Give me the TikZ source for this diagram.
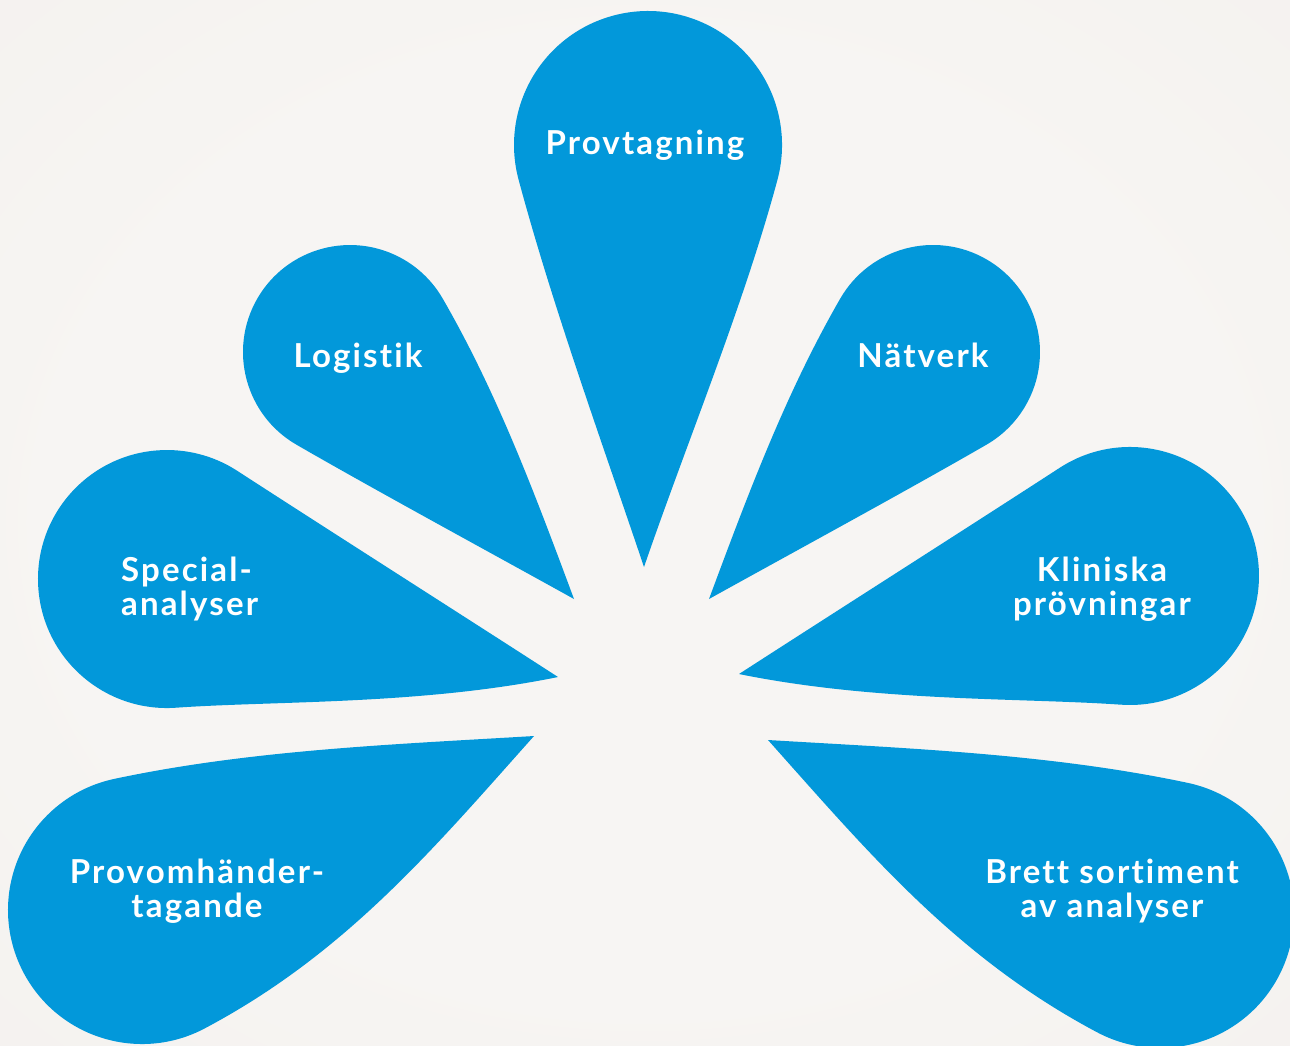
\documentclass[tikz,border=0pt]{standalone}
\usepackage{fontspec}
\setmainfont{Lato}[Ligatures=NoCommon, LetterSpace=6.5]
\begin{document}
\definecolor{petal}{RGB}{2,152,218}
\definecolor{bgin}{RGB}{247,245,243}
\definecolor{bgmid}{RGB}{242,239,236}
\definecolor{bgout}{RGB}{230,225,221}
\pgfdeclareradialshading{paper}{\pgfpoint{0bp}{0bp}}{%
  color(0bp)=(bgin); color(22bp)=(bgin); color(50bp)=(bgmid); color(71bp)=(bgout)}
\begin{tikzpicture}[x=1pt,y=-1pt,
  petalfill/.style={fill=petal, draw=none},
  label/.style={text=white, font=\fontsize{33}{34}\selectfont\bfseries,
    inner sep=0pt, align=center, anchor=base}]
\useasboundingbox (0,0) rectangle (1290,1045);
\clip (0,0) rectangle (1290,1045);
\shade[shading=paper] (0,0) rectangle (1290,1045);

% top petal
\fill[petalfill] (644,567) .. controls (602.4,443.5) and (552.3,305.3) .. (518.6,179.7)
  arc[start angle=165, end angle=375, radius=134]
  .. controls (743.7,305.3) and (686.2,444) .. cycle;

% upper left petal
\fill[petalfill] (574,599) .. controls (495.3,555.3) and (374.4,489.7) .. (296.5,444.7)
  arc[start angle=120, end angle=330, radius=107]
  .. controls (497.7,393.8) and (535.6,495.9) .. cycle;

% upper right petal
\fill[petalfill] (709,599) .. controls (747.4,495.9) and (785.3,393.8) .. (840.3,298.5)
  arc[start angle=210, end angle=420, radius=107]
  .. controls (908.6,489.7) and (787.7,555.3) .. cycle;

% middle left petal
\fill[petalfill] (558,677) .. controls (420.8,705) and (275.8,700.7) .. (176,707.7)
  arc[start angle=86, end angle=303, radius=129]
  .. controls (321.2,525.3) and (474,622.7) .. cycle;

% middle right petal
\fill[petalfill] (739,674) .. controls (823,619.7) and (975.8,522.3) .. (1059.7,467.8)
  arc[start angle=237, end angle=454, radius=129]
  .. controls (1021.2,697.7) and (876.2,702) .. cycle;

% lower left petal
\fill[petalfill] (534,736) .. controls (434.1,847.9) and (346.2,953.3) .. (204.9,1028.3)
  arc[start angle=62, end angle=258, radius=134]
  .. controls (251,749.8) and (394.3,744.4) .. cycle;

% lower right petal
\fill[petalfill] (768,740) .. controls (907.7,748.4) and (1051,753.8) .. (1187.9,782.9)
  arc[start angle=282, end angle=478, radius=134]
  .. controls (955.8,957.3) and (867.9,851.9) .. cycle;

\node[label] (prov) at (645,154) {Provtagning};
\node[label] (logi) at (358,367) {Logistik};
\node[label] (natv) at (923,367) {Nätverk};
\node[label, align=left, anchor=base west] (spec) at (121,615) {Special-\\analyser};
\node[label] (klin) at (1102,615) {Kliniska\\prövningar};
\node[label] (hand) at (197,917) {Provomhänder-\\tagande};
\node[label] (bret) at (1112,917) {Brett sortiment\\av analyser};
\end{tikzpicture}
\end{document}
